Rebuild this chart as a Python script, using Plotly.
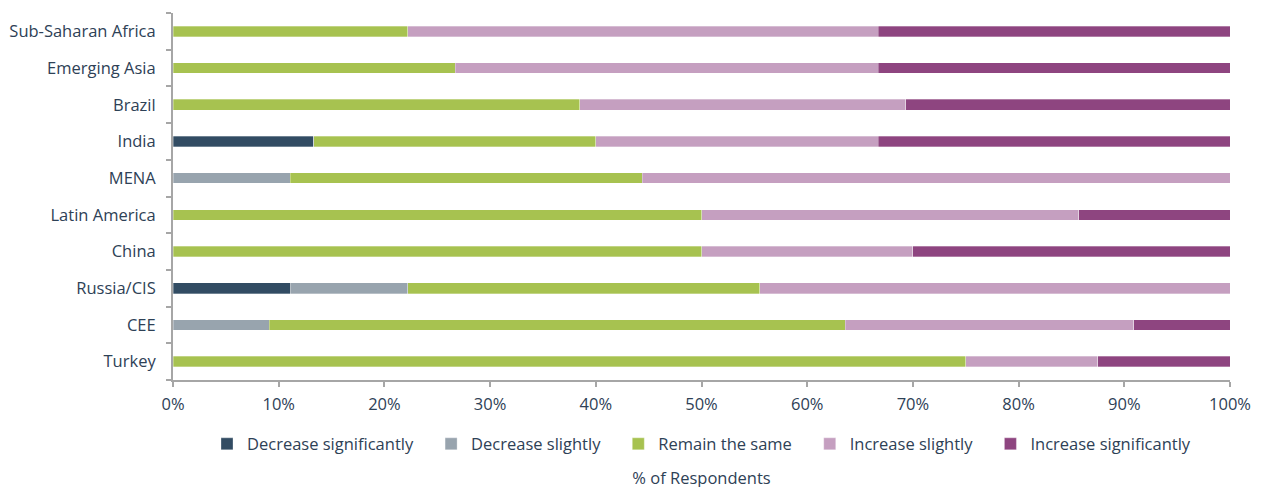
import plotly.graph_objects as go

regions = ["Sub-Saharan Africa", "Emerging Asia", "Brazil", "India", "MENA",
           "Latin America", "China", "Russia/CIS", "CEE", "Turkey"]

decrease_significantly = [0, 0, 0, 13.3, 0, 0, 0, 11.1, 0, 0]
decrease_slightly = [0, 0, 0, 0, 11.1, 0, 0, 11.1, 9.1, 0]
remain_the_same = [22.2, 26.7, 38.5, 26.7, 33.3, 50.0, 50.0, 33.3, 54.5, 75.0]
increase_slightly = [44.5, 40.0, 30.8, 26.7, 55.6, 35.7, 20.0, 44.5, 27.3, 12.5]
increase_significantly = [33.3, 33.3, 30.7, 33.3, 0, 14.3, 30.0, 0, 9.1, 12.5]

x_ticks = [0, 10, 20, 30, 40, 50, 60, 70, 80, 90, 100]

series_names = ["Decrease significantly", "Decrease slightly", "Remain the same",
                "Increase slightly", "Increase significantly"]
series_values = [decrease_significantly, decrease_slightly, remain_the_same,
                 increase_slightly, increase_significantly]
series_colors = ["#324C63", "#98A4AE", "#A7C250", "#C59FC0", "#8E4580"]

text_color = "#2E4156"
axis_color = "#A6A6A6"
fsize = 16.5
pad = "\u00a0\u00a0\u00a0"

fig = go.Figure()
for i, (name, vals, color) in enumerate(zip(series_names, series_values, series_colors)):
    label = name + (pad if i < len(series_names) - 1 else "")
    fig.add_trace(go.Bar(
        y=regions, x=vals, name=label, orientation="h",
        marker=dict(color=color, line=dict(color="rgba(255,255,255,0.6)", width=0.5)),
    ))

fig.update_layout(
    barmode="stack",
    bargap=0.71,
    width=1264, height=487,
    margin=dict(l=165, r=42, t=5, b=115),
    plot_bgcolor="white", paper_bgcolor="white",
    font=dict(family="Open Sans", size=fsize, color=text_color),
    showlegend=True,
    legend=dict(orientation="h", x=0.5, xanchor="center", y=-0.127, yanchor="top",
                traceorder="normal", font=dict(size=fsize, color=text_color),
                itemwidth=30, itemclick=False),
    xaxis=dict(
        automargin=False,
        range=[0, 100], tickvals=x_ticks, ticktext=[f"{v}%" for v in x_ticks],
        showgrid=False, zeroline=False, showline=True, linecolor=axis_color, linewidth=2,
        ticks="outside", ticklen=5, tickcolor=axis_color, tickwidth=2,
        ticklabelstandoff=3,
        title=dict(text="% of Respondents", standoff=59, font=dict(size=fsize, color=text_color)),
        tickfont=dict(size=fsize, color=text_color),
    ),
    yaxis=dict(
        automargin=False,
        categoryorder="array", categoryarray=regions[::-1],
        showgrid=False, zeroline=False, showline=True, linecolor=axis_color, linewidth=2,
        ticks="outside", ticklen=5, tickcolor=axis_color, tickwidth=2, tickson="boundaries",
        tickfont=dict(size=fsize, color=text_color), ticklabelstandoff=12,
    ),
)

fig.write_html("out.html")
